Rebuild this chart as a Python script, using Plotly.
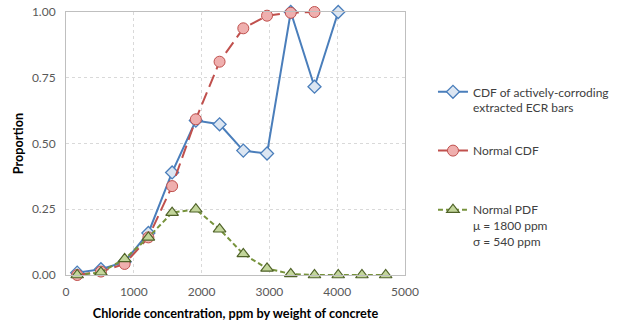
import plotly.graph_objects as go

# Chloride bin centres (ppm by weight of concrete)
chloride = [165, 515, 865, 1215, 1565, 1915, 2265, 2615, 2965, 3315, 3665, 4015, 4365, 4715]

# Empirical CDF of actively-corroding extracted ECR bars (first 12 bins)
cdf_observed = [0.009, 0.022, 0.05, 0.16, 0.39, 0.587, 0.573, 0.473, 0.462, 1.0, 0.716, 1.0]

# Normal CDF (first 11 bins)
cdf_normal = [0.0, 0.013, 0.042, 0.143, 0.338, 0.592, 0.811, 0.938, 0.986, 0.997, 1.0]

# Normal PDF, scaled (all bins)
pdf_normal = [0.0, 0.01, 0.061, 0.143, 0.237, 0.25, 0.174, 0.08, 0.025, 0.004, 0.0, 0.0, 0.0, 0.0]

FONT = "Lato"
TICK_GRAY = "#595959"

fig = go.Figure()

fig.add_trace(go.Scatter(
    x=chloride[:len(cdf_observed)], y=cdf_observed,
    mode="lines+markers",
    name="CDF of actively-corroding<br>extracted ECR bars",
    line=dict(color="#4A7EBB", width=2),
    marker=dict(symbol="diamond", size=10, color="#DCE6F2",
                line=dict(color="#4A7EBB", width=1.3)),
    cliponaxis=False,
    legend="legend4",
))

fig.add_trace(go.Scatter(
    x=chloride[:len(cdf_normal)], y=cdf_normal,
    mode="lines+markers",
    name="Normal CDF",
    line=dict(color="#C0504D", width=2, dash="13px,6px"),
    marker=dict(symbol="circle", size=11, color="#EFAFAE",
                line=dict(color="#C0504D", width=1)),
    cliponaxis=False,
    legend="legend2",
))

fig.add_trace(go.Scatter(
    x=chloride, y=pdf_normal,
    mode="lines+markers",
    name="Normal PDF<br>\u03bc = 1800 ppm<br>\u03c3 = 540 ppm",
    line=dict(color="#77933C", width=2, dash="5px,3px"),
    marker=dict(symbol="triangle-up", size=11, color="#C3D69B",
                line=dict(color="#4F6228", width=1.2)),
    cliponaxis=False,
    legend="legend3",
))

# Legends are placed in container coordinates so they don't resize the plot area
legend_common = dict(
    xref="container", yref="container",
    xanchor="left", yanchor="top", valign="top",
    font=dict(family=FONT, size=12, color="#404040"),
    bgcolor="rgba(0,0,0,0)", itemwidth=30,
)

fig.update_layout(
    width=618, height=323,
    margin=dict(l=66, r=213, t=12, b=48),
    paper_bgcolor="white", plot_bgcolor="white",
    font=dict(family=FONT, size=12, color=TICK_GRAY),
    showlegend=True,
    legend4=dict(x=0.7006, y=0.760, **legend_common),
    legend2=dict(x=0.7006, y=0.578, **legend_common),
    legend3=dict(x=0.7006, y=0.395, **legend_common),
    xaxis=dict(
        range=[0, 5000], tickvals=[0, 1000, 2000, 3000, 4000, 5000],
        showgrid=True, gridcolor="#D9D9D9", griddash="dot", gridwidth=1,
        showline=True, linecolor="#BFBFBF", linewidth=1, mirror=True,
        zeroline=False, ticks="", ticklabelstandoff=6, automargin=False,
        tickfont=dict(family=FONT, size=12, color=TICK_GRAY),
        title=dict(text="<b>Chloride concentration, ppm by weight of concrete</b>",
                   font=dict(family=FONT, size=12.7, color="black"), standoff=10),
    ),
    yaxis=dict(
        range=[0, 1], tickvals=[0, 0.25, 0.5, 0.75, 1.0], tickformat=".2f",
        showgrid=True, gridcolor="#D9D9D9", griddash="dot", gridwidth=1,
        showline=True, linecolor="#BFBFBF", linewidth=1, mirror=True,
        zeroline=False, ticks="", ticklabelstandoff=7, automargin=False,
        tickfont=dict(family=FONT, size=12, color=TICK_GRAY),
        title=dict(text="<b>Proportion</b>",
                   font=dict(family=FONT, size=12.7, color="black"), standoff=5),
    ),
)

fig.write_html("out.html")
